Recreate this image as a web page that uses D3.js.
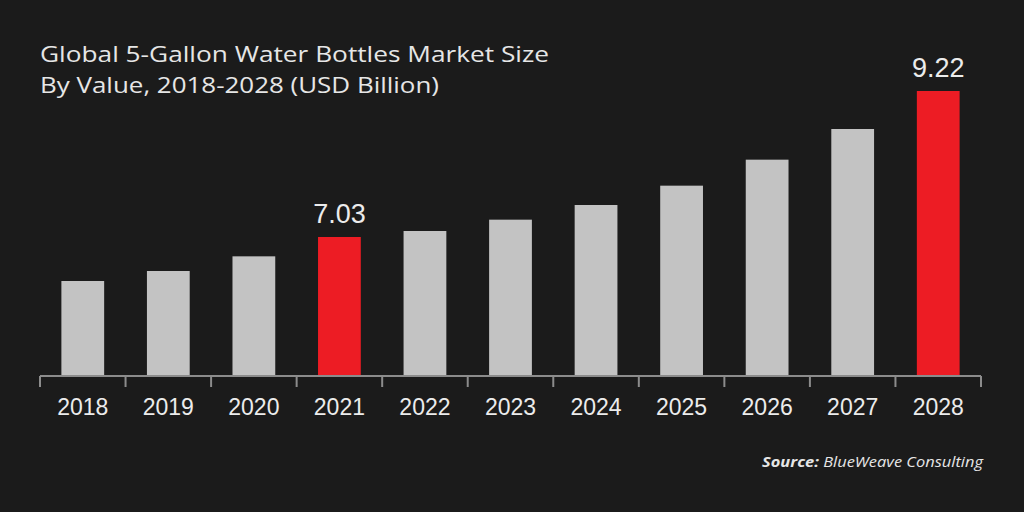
<!DOCTYPE html>
<html>
<head>
<meta charset="utf-8">
<script src="https://cdn.jsdelivr.net/npm/d3@7/dist/d3.min.js"></script>
<style>
  html, body { margin: 0; padding: 0; background: #1b1b1b; }
  svg { display: block; }
</style>
</head>
<body>
<script>
const years = ["2018","2019","2020","2021","2022","2023","2024","2025","2026","2027","2028"];
const values = [6.37, 6.52, 6.74, 7.03, 7.12, 7.29, 7.51, 7.80, 8.19, 8.65, 9.22];
const highlighted = ["2021", "2028"];
const titleLines = ["Global 5-Gallon Water Bottles Market Size", "By Value, 2018-2028 (USD Billion)"];

const W = 1024, H = 512;
const svg = d3.select("body").append("svg").attr("width", W).attr("height", H);
svg.append("rect").attr("width", W).attr("height", H).attr("fill", "#1b1b1b");

const x = d3.scaleBand().domain(years).range([40, 981]).paddingInner(0.5).paddingOuter(0.25);
const y = d3.scaleLinear().domain([4.945, 9.22]).range([376, 91]);

// bars
svg.selectAll("rect.bar").data(years).enter().append("rect")
  .attr("class", "bar")
  .attr("x", d => x(d))
  .attr("width", x.bandwidth())
  .attr("y", (d, i) => y(values[i]))
  .attr("height", (d, i) => 376 - y(values[i]))
  .attr("fill", d => highlighted.includes(d) ? "#ed1c24" : "#c3c3c3");

// value labels on highlighted bars
svg.selectAll("text.val").data(years.filter(d => highlighted.includes(d))).enter().append("text")
  .attr("class", "val")
  .attr("x", d => x(d) + x.bandwidth() / 2)
  .attr("y", d => y(values[years.indexOf(d)]) - 14)
  .attr("text-anchor", "middle")
  .attr("font-family", "Liberation Sans, Arial, sans-serif")
  .attr("font-size", 27)
  .attr("fill", "#ececec")
  .text(d => values[years.indexOf(d)].toFixed(2));

// axis: line with ticks at band boundaries
const ax = svg.append("g").attr("stroke", "#8c8c8c").attr("stroke-width", 2);
ax.append("line").attr("x1", 40).attr("x2", 981).attr("y1", 376).attr("y2", 376);
const bounds = d3.range(years.length + 1).map(i => 40 + i * (941 / years.length));
ax.selectAll("line.tick").data(bounds).enter().append("line")
  .attr("x1", d => d).attr("x2", d => d).attr("y1", 376).attr("y2", 387);

svg.selectAll("text.year").data(years).enter().append("text")
  .attr("x", d => x(d) + x.bandwidth() / 2)
  .attr("y", 415)
  .attr("text-anchor", "middle")
  .attr("font-family", "Liberation Sans, Arial, sans-serif")
  .attr("font-size", 23)
  .attr("fill", "#ececec")
  .text(d => d);

// title
const tl = [[62, 509], [93, 399]];
svg.selectAll("text.title").data(titleLines).enter().append("text")
  .attr("x", 40)
  .attr("y", (d, i) => tl[i][0])
  .attr("font-family", "Open Sans, sans-serif")
  .attr("font-weight", 500)
  .attr("font-size", 22)
  .attr("fill", "#e6e6e6")
  .attr("textLength", (d, i) => tl[i][1])
  .attr("lengthAdjust", "spacingAndGlyphs")
  .text(d => d);

// source
const src = svg.append("text")
  .attr("x", 983).attr("y", 467)
  .attr("text-anchor", "end")
  .attr("font-family", "Open Sans, sans-serif")
  .attr("font-size", 15)
  .attr("font-style", "italic")
  .attr("fill", "#e6e6e6")
  .attr("textLength", 221)
  .attr("lengthAdjust", "spacingAndGlyphs");
src.append("tspan").attr("font-weight", 700).text("Source:");
src.append("tspan").text(" BlueWeave Consulting");
</script>
</body>
</html>
